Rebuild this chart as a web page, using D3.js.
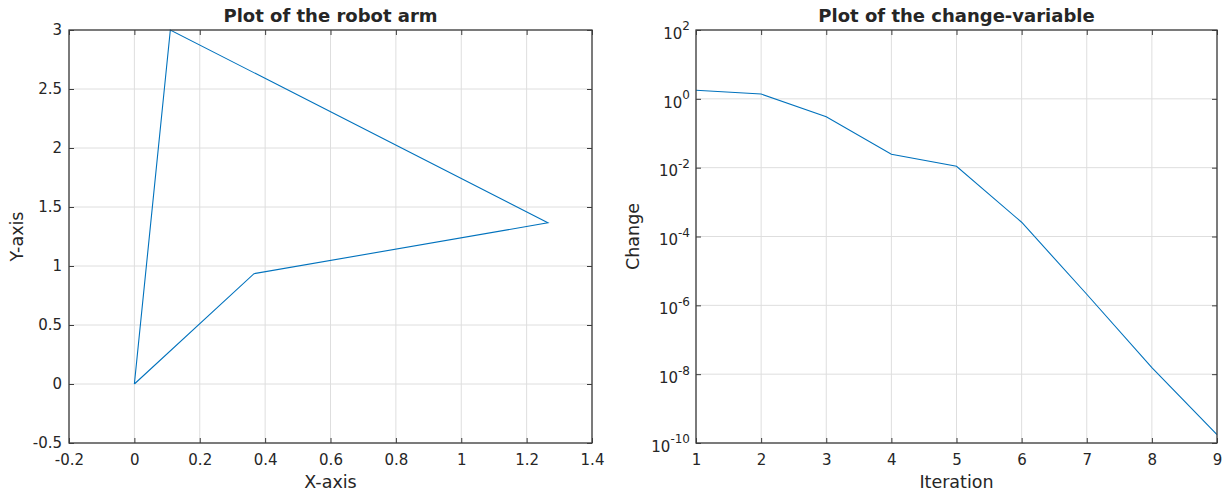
<!DOCTYPE html>
<html><head><meta charset="utf-8">
<script src="https://cdn.jsdelivr.net/npm/d3@7"></script>
<style>body{margin:0;background:#fff}svg{display:block}text{font-family:"DejaVu Sans",sans-serif;fill:#262626}</style>
</head><body><svg id="c" width="1226" height="493"></svg>
<script>
// Left plot: robot arm
const armX = [0, 0.11, 1.265, 0.366, 0];
const armY = [0, 3, 1.366, 0.935, 0];
const leftXTicks = [-0.2, 0, 0.2, 0.4, 0.6, 0.8, 1, 1.2, 1.4];
const leftYTicks = [-0.5, 0, 0.5, 1, 1.5, 2, 2.5, 3];
// Right plot: change-variable
const iterations = [1, 2, 3, 4, 5, 6, 7, 8, 9];
const changeVals = [1.77, 1.38, 0.30, 0.0245, 0.011, 2.6e-4, 2.1e-6, 1.55e-8, 1.75e-10];
const rightXTicks = [1, 2, 3, 4, 5, 6, 7, 8, 9];
const rightYExps = [2, 0, -2, -4, -6, -8, -10];

const svg = d3.select("#c");
const lineColor = "#0072BD", axisColor = "#262626", boxColor = "#3c3c3c", gridColor = "#dedede";
const tickFs = 15, labelFs = 17.5, titleFs = 18;

function frame(g, x, y, xTicks, yTicks) {
  const [x0, x1] = x.range(), [y1, y0] = y.range();
  g.selectAll(".gx").data(xTicks).join("line")
    .attr("x1", d => x(d)).attr("x2", d => x(d)).attr("y1", y0).attr("y2", y1)
    .attr("stroke", gridColor).attr("stroke-width", 1);
  g.selectAll(".gy").data(yTicks).join("line")
    .attr("y1", d => y(d)).attr("y2", d => y(d)).attr("x1", x0).attr("x2", x1)
    .attr("stroke", gridColor).attr("stroke-width", 1);
}
function axes(g, x, y, xTicks, yTicks, xFmt, yFmt) {
  const [x0, x1] = x.range(), [y1, y0] = y.range();
  const tl = 5;
  g.append("g").attr("transform", `translate(0,${y1})`)
    .call(d3.axisBottom(x).tickValues(xTicks).tickSizeInner(-tl).tickSizeOuter(0).tickFormat(xFmt))
    .call(s => { s.select(".domain").remove(); s.selectAll("line").attr("stroke", boxColor);
      s.selectAll("text").attr("font-size", tickFs).attr("fill", axisColor).attr("dy", "0").attr("y", 22); });
  g.append("g").attr("transform", `translate(0,${y0})`)
    .call(d3.axisTop(x).tickValues(xTicks).tickSizeInner(-tl).tickSizeOuter(0).tickFormat(""))
    .call(s => { s.select(".domain").remove(); s.selectAll("line").attr("stroke", boxColor); });
  const ly = g.append("g").attr("transform", `translate(${x0},0)`)
    .call(d3.axisLeft(y).tickValues(yTicks).tickSizeInner(-tl).tickSizeOuter(0).tickFormat(yFmt ? "" : d => d))
    .call(s => { s.select(".domain").remove(); s.selectAll("line").attr("stroke", boxColor);
      s.selectAll("text").attr("font-size", tickFs).attr("fill", axisColor).attr("x", -7); });
  if (yFmt) yFmt(ly);
  g.append("g").attr("transform", `translate(${x1},0)`)
    .call(d3.axisRight(y).tickValues(yTicks).tickSizeInner(-tl).tickSizeOuter(0).tickFormat(""))
    .call(s => { s.select(".domain").remove(); s.selectAll("line").attr("stroke", boxColor); });
  g.append("rect").attr("x", x0).attr("y", y0).attr("width", x1 - x0).attr("height", y1 - y0)
    .attr("fill", "none").attr("stroke", boxColor).attr("stroke-width", 1.3);
}

// ---- Left
const xL = d3.scaleLinear().domain([-0.2, 1.4]).range([69, 592]);
const yL = d3.scaleLinear().domain([-0.5, 3]).range([443, 30]);
const gL = svg.append("g");
frame(gL, xL, yL, leftXTicks, leftYTicks);
gL.append("path").datum(armX.map((d, i) => [d, armY[i]]))
  .attr("d", d3.line().x(d => xL(d[0])).y(d => yL(d[1])))
  .attr("fill", "none").attr("stroke", lineColor).attr("stroke-width", 1.1);
axes(gL, xL, yL, leftXTicks, leftYTicks, d => d);
gL.append("text").attr("x", (69 + 592) / 2).attr("y", 22).attr("text-anchor", "middle")
  .attr("font-size", titleFs).attr("font-weight", "bold").attr("fill", "#000").text("Plot of the robot arm");
gL.append("text").attr("x", (69 + 592) / 2).attr("y", 488).attr("text-anchor", "middle")
  .attr("font-size", labelFs).text("X-axis");
gL.append("text").attr("transform", `translate(23,${(30 + 443) / 2}) rotate(-90)`).attr("text-anchor", "middle")
  .attr("font-size", labelFs).text("Y-axis");

// ---- Right
const xR = d3.scaleLinear().domain([1, 9]).range([696, 1217]);
const yR = d3.scaleLog().domain([1e-10, 1e2]).range([443, 30]);
const yRTicks = rightYExps.map(e => Math.pow(10, e));
const gR = svg.append("g");
frame(gR, xR, yR, rightXTicks, yRTicks);
gR.append("path").datum(iterations.map((d, i) => [d, changeVals[i]]))
  .attr("d", d3.line().x(d => xR(d[0])).y(d => yR(d[1])))
  .attr("fill", "none").attr("stroke", lineColor).attr("stroke-width", 1.1);
axes(gR, xR, yR, rightXTicks, yRTicks, d => d, sel => {
  sel.selectAll(".tick").each(function (d) {
    const e = Math.round(Math.log10(d));
    const t = d3.select(this).append("text").attr("x", -6).attr("dy", "0.55em")
      .attr("text-anchor", "end").attr("font-size", tickFs).attr("fill", axisColor);
    t.append("tspan").text("10");
    t.append("tspan").attr("font-size", 12).attr("dy", "-0.7em").text(e);
  });
});
gR.append("text").attr("x", (696 + 1217) / 2).attr("y", 22).attr("text-anchor", "middle")
  .attr("font-size", titleFs).attr("font-weight", "bold").attr("fill", "#000").text("Plot of the change-variable");
gR.append("text").attr("x", (696 + 1217) / 2).attr("y", 488).attr("text-anchor", "middle")
  .attr("font-size", labelFs).text("Iteration");
gR.append("text").attr("transform", `translate(639,${(30 + 443) / 2}) rotate(-90)`).attr("text-anchor", "middle")
  .attr("font-size", labelFs).text("Change");
</script></body></html>
